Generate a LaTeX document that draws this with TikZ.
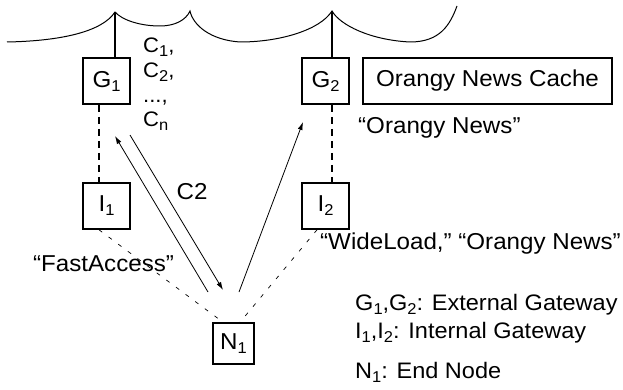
\documentclass[tikz,border=0pt]{standalone}
\usepackage{fontspec}
\setmainfont{Liberation Sans}[FakeStretch=1.05]
\usetikzlibrary{arrows.meta}
\newcommand\lowsub[1]{\raisebox{-4pt}{\fontsize{15.7}{16}\selectfont #1}}
\begin{document}
\begin{tikzpicture}[x=1pt,y=-1pt,
  box/.style={draw, line width=1.6pt, inner sep=0pt, minimum width=47pt, minimum height=46pt, font=\fontsize{23}{27}\selectfont},
  lbl/.style={inner sep=0pt, font=\fontsize{23}{27}\selectfont},
  leg/.style={inner sep=0pt, font=\fontsize{22.4}{27}\selectfont, anchor=base west},
  clbl/.style={inner sep=0pt, font=\fontsize{21}{25}\selectfont, anchor=base west},
  thickdash/.style={line width=1.6pt, dash pattern=on 7pt off 5pt},
  thindash/.style={line width=0.7pt, dash pattern=on 4pt off 8pt},
  arr/.style={line width=0.8pt, -{Latex[length=8pt,width=5pt]}},
  cloud/.style={line width=1pt},
  wire/.style={line width=1.6pt}]
\useasboundingbox (0,0) rectangle (623,390);

% boxes
\node[box] (G1) at (106.5,81) {G\lowsub{1}};
\node[box] (G2) at (325.5,81) {G\lowsub{2}};
\node[box, minimum width=249pt] (cache) at (487.5,81) {Orangy News Cache};
\node[box] (I1) at (106.5,206) {I\lowsub{1}};
\node[box] (I2) at (325.5,206) {I\lowsub{2}};
\node[box, minimum width=41pt, minimum height=41pt] (N1) at (233.5,343.5) {N\lowsub{1}};

% cloud outline
\coordinate (t1) at (115,12);
\coordinate (t2) at (190,11);
\coordinate (t3) at (332,11);
\draw[cloud] (7,42) .. controls (60,41) and (102,32) .. (t1)
  .. controls (122,20) and (140,26) .. (160,26)
  .. controls (175,26) and (186,20) .. (t2)
  .. controls (193,25) and (210,40) .. (240,42)
  .. controls (280,42) and (320,30) .. (t3)
  .. controls (340,25) and (370,40) .. (410,42)
  .. controls (440,42) and (450,25) .. (457,6);

% links to the network
\draw[wire] (t1) -- (t1 |- G1.north);
\draw[wire] (t3) -- (t3 |- G2.north);

% gateway links
\coordinate (d1) at (99,0);
\draw[thickdash] (d1 |- G1.south) -- (d1 |- I1.north);
\draw[thickdash] (t3 |- G2.south) -- (t3 |- I2.north);

% internal links
\draw[thindash] (d1 |- I1.south) -- ([xshift=-10.5pt]N1.north);
\draw[thindash] ([xshift=-8.5pt]I2.south) -- ([xshift=6.5pt]N1.north);

% arrows
\coordinate (a1s) at (208,292); \coordinate (a1e) at (115,136);
\coordinate (a2s) at (130,135); \coordinate (a2e) at (223,290);
\coordinate (a3s) at (239,292); \coordinate (a3e) at (303,122);
\draw[arr] (a1s) -- (a1e);
\draw[arr] (a2s) -- (a2e);
\draw[arr] (a3s) -- (a3e);

% labels
\node[clbl] (c1) at (143,53) {C\lowsub{1},};
\node[clbl] (c2) at (143,78) {C\lowsub{2},};
\node[clbl] (c3) at (143,103) {...,};
\node[clbl] (c4) at (143,127) {C\lowsub{n}};
\node[lbl, anchor=base] (c2lbl) at (192,200) {C2};
\node[lbl, anchor=base] (fa) at (103.5,271) {“FastAccess”};
\node[lbl, anchor=base west] (on) at (358,134) {“Orangy News”};
\node[lbl, anchor=base west] (wl) at (320,249) {“WideLoad,” “Orangy News”};

% legend
\node[leg] (lg1) at (355,310) {G\lowsub{1},G\lowsub{2}: External Gateway};
\node[leg] (lg2) at (355,338) {I\lowsub{1},I\lowsub{2}: Internal Gateway};
\node[leg] (lg3) at (355,378) {N\lowsub{1}: End Node};
\end{tikzpicture}
\end{document}
